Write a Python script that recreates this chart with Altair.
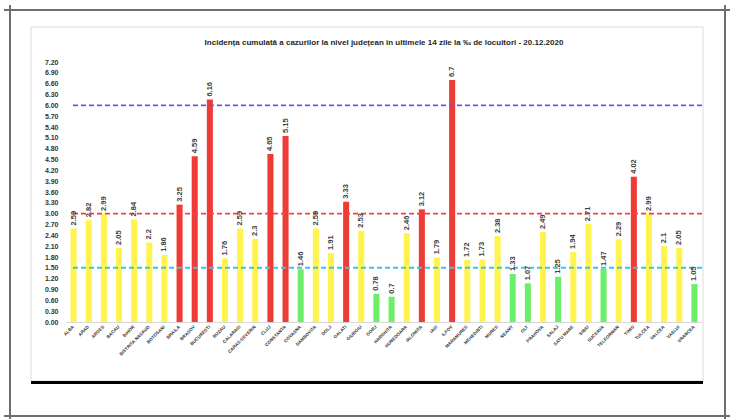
import altair as alt
import pandas as pd

# 14-day cumulative incidence per 1000 inhabitants, by county (20.12.2020)
counties = [
    "ALBA", "ARAD", "ARGES", "BACAU", "BIHOR", "BISTRITA NASAUD", "BOTOSANI",
    "BRAILA", "BRASOV", "BUCURESTI", "BUZAU", "CALARASI", "CARAS-SEVERIN",
    "CLUJ", "CONSTANTA", "COVASNA", "DAMBOVITA", "DOLJ", "GALATI", "GIURGIU",
    "GORJ", "HARGHITA", "HUNEDOARA", "IALOMITA", "IASI", "ILFOV", "MARAMURES",
    "MEHEDINTI", "MURES", "NEAMT", "OLT", "PRAHOVA", "SALAJ", "SATU MARE",
    "SIBIU", "SUCEAVA", "TELEORMAN", "TIMIS", "TULCEA", "VALCEA", "VASLUI",
    "VRANCEA",
]
values = [
    2.59, 2.82, 2.99, 2.05, 2.84, 2.2, 1.86,
    3.25, 4.59, 6.16, 1.76, 2.59, 2.3,
    4.65, 5.15, 1.46, 2.59, 1.91, 3.33, 2.53,
    0.78, 0.7, 2.46, 3.12, 1.79, 6.7, 1.72,
    1.73, 2.38, 1.33, 1.07, 2.49, 1.25, 1.94,
    2.71, 1.47, 2.29, 4.02, 2.99, 2.1, 2.05,
    1.05,
]
thresholds = [6.0, 3.0, 1.5]
threshold_colors = ["#7A4FE0", "#FF3B3B", "#3EC3EE"]
y_ticks = [0.0, 0.3, 0.6, 0.9, 1.2, 1.5, 1.8, 2.1, 2.4, 2.7, 3.0, 3.3,
           3.6, 3.9, 4.2, 4.5, 4.8, 5.1, 5.4, 5.7, 6.0, 6.3, 6.6, 6.9, 7.2]
title_text = ("Incidența cumulată a cazurilor la nivel județean în ultimele 14 "
              "zile la ‰ de locuitori - 20.12.2020")

FONT = "Liberation Sans Narrow, Liberation Sans, Arial, sans-serif"

df = pd.DataFrame({
    "county": counties,
    "value": values,
    "label": [f"{v:g}" for v in values],
})
one = pd.DataFrame({"k": [0]})

x_enc = alt.X(
    "county:N", sort=None,
    scale=alt.Scale(paddingInner=0.6, paddingOuter=0.3),
    axis=alt.Axis(title=None, labelAngle=-45, labelAlign="right",
                  labelBaseline="middle", labelFontSize=4.5,
                  labelFontWeight="bold", labelColor="#333333",
                  labelPadding=4, labelOverlap=False, labelFont=FONT,
                  ticks=False, domainColor="#d9d9d9", domainWidth=1),
)
y_enc = alt.Y(
    "value:Q",
    scale=alt.Scale(domain=[0, 7.2], nice=False, zero=True),
    axis=alt.Axis(title=None, values=y_ticks, format=".2f", grid=False,
                  domain=False, ticks=False, labelFontSize=7,
                  labelFontWeight="bold", labelColor="#333333",
                  labelPadding=8, labelFont=FONT, labelOverlap=False,
                  labelBound=False, labelFlush=False),
)

color_expr = ("datum.value > 3 ? '#EF3B36' : "
              "(datum.value >= 1.5 ? '#FFF34D' : '#6BEF6B')")

bars = alt.Chart(df).transform_calculate(fillc=color_expr).mark_bar().encode(
    x=x_enc, y=y_enc,
    color=alt.Color("fillc:N", scale=None),
)

labels = alt.Chart(df).mark_text(
    angle=270, align="left", baseline="middle", dx=3, fontSize=7.5,
    fontWeight="bold", color="#404040", font=FONT,
).encode(x=x_enc, y=y_enc, text="label:N")

# dashed reference levels
refs = [
    alt.Chart(pd.DataFrame({"value": [lvl]})).mark_rule(
        strokeDash=[5, 3], strokeWidth=w, stroke=c
    ).encode(y=y_enc, x=alt.value(7), x2=alt.value(636))
    for lvl, c, w in zip(thresholds, threshold_colors, [1.8, 1.8, 2.0])
]

# page frame and chart box
def rule(x, x2, y, y2, color, width):
    return alt.Chart(one).mark_rule(color=color, strokeWidth=width).encode(
        x=alt.value(x), x2=alt.value(x2), y=alt.value(y), y2=alt.value(y2))

box = alt.Chart(one).mark_rect(fillOpacity=0, stroke="#dcdcdc",
                               strokeWidth=1).encode(
    x=alt.value(-35), x2=alt.value(637), y=alt.value(-35), y2=alt.value(319))

frame = [
    rule(-62, 664, -52, -52, "#6e6e6e", 2),
    rule(-62, 664, 354, 354, "#6e6e6e", 2),
    rule(-56, -56, -57, 357, "#6e6e6e", 2),
    rule(659, 659, -57, 357, "#6e6e6e", 2),
    rule(-35, 637, 320.5, 320.5, "#000000", 3),
]

title = alt.Chart(one).mark_text(
    text=title_text, fontSize=8, fontWeight="bold", color="#262626",
    align="center", baseline="middle", font=FONT,
).encode(x=alt.value(318), y=alt.value(-19))

chart = alt.layer(
    box, *frame, title, bars, *refs, labels
).properties(
    width=636, height=260,
    autosize=alt.AutoSizeParams(type="none"),
    padding={"left": 66, "top": 62, "right": 33, "bottom": 97},
    background="white",
).configure_view(stroke=None).configure_axis(labelOverlap=False)

chart.save("out.html", embed_options={"renderer": "svg", "actions": False})
